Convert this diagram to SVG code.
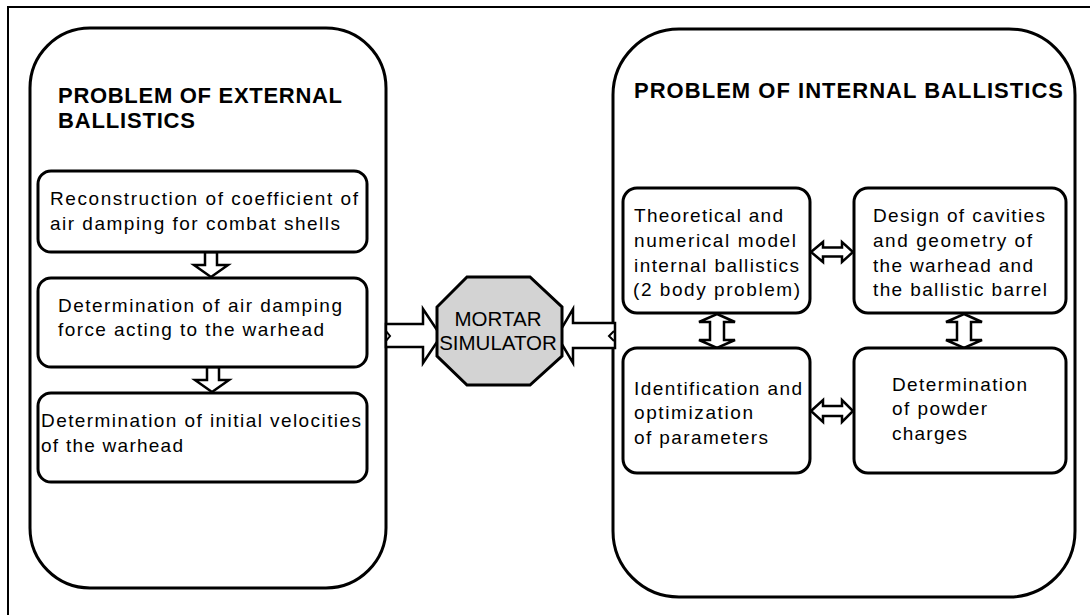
<svg xmlns="http://www.w3.org/2000/svg" width="1090" height="615" viewBox="0 0 1090 615">
<style>
.big{fill:#fff;stroke:#000;stroke-width:3}
.box{fill:#fff;stroke:#000;stroke-width:3}
.t{font-family:"Liberation Sans",Arial,sans-serif;font-size:19px;fill:#000}
.h{font-family:"Liberation Sans",Arial,sans-serif;font-size:22px;font-weight:bold;fill:#000}
.arr{fill:#fff;stroke:#000;stroke-width:2.5;stroke-linejoin:miter}
.mk{fill:none;stroke:#000;stroke-width:2}
</style>
<rect x="0" y="0" width="1090" height="615" fill="#fff"/>
<path d="M8 615 V7 H1090" fill="none" stroke="#000" stroke-width="2"/>

<g id="external">
<rect class="big" x="30" y="28" width="356" height="560" rx="60" ry="60"/>
<text class="h" x="58" y="103" textLength="284" lengthAdjust="spacing">PROBLEM OF EXTERNAL</text>
<text class="h" x="58" y="128" textLength="137" lengthAdjust="spacing">BALLISTICS</text>
</g>

<g id="internal">
<rect class="big" x="613" y="29" width="462" height="568" rx="66" ry="66"/>
<text class="h" x="634" y="98" textLength="429" lengthAdjust="spacing">PROBLEM OF INTERNAL BALLISTICS</text>
</g>

<g id="connectors">
<polygon class="arr" points="205,252 217,252 217,265 228,265 211,277 194,265 205,265"/>
<polygon class="arr" points="207,367 219,367 219,380 229,380 212,392 195,380 207,380"/>
<polygon class="arr" points="386,324 423,324 423,309 441,336 423,363 423,347 386,347"/>
<polygon class="arr" points="615,323 573,323 573,309 557,336 573,363 573,348 615,348"/>
<path class="mk" d="M386,331 L390,336 L386,341"/>
<path class="mk" d="M614,331 L609,336 L614,341"/>
<polygon class="arr" points="811,252 823,242 823,247.5 842,247.5 842,242 853,252 842,262 842,256.5 823,256.5 823,262"/>
<polygon class="arr" points="811,411 823,400 823,406 842,406 842,400 853,411 842,422 842,416 823,416 823,422"/>
<polygon class="arr" points="717,314 735,322 724,322 724,340 735,340 717,348 699,340 710,340 710,322 699,322"/>
<polygon class="arr" points="964,314 982,322 971,322 971,340 982,340 964,348 946,340 957,340 957,322 946,322"/>
</g>

<g id="ext-reconstruction">
<rect class="box" x="38" y="171" width="329" height="81" rx="13" ry="13"/>
<text class="t" x="50" y="205" textLength="308" lengthAdjust="spacing">Reconstruction of coefficient of</text>
<text class="t" x="50" y="230" textLength="290" lengthAdjust="spacing">air damping for combat shells</text>
</g>

<g id="ext-damping-force">
<rect class="box" x="38" y="278" width="329" height="89" rx="13" ry="13"/>
<text class="t" x="58" y="312" textLength="284" lengthAdjust="spacing">Determination of air damping</text>
<text class="t" x="58" y="336" textLength="266" lengthAdjust="spacing">force acting to the warhead</text>
</g>

<g id="ext-velocities">
<rect class="box" x="38" y="393" width="329" height="89" rx="13" ry="13"/>
<text class="t" x="41" y="427" textLength="320" lengthAdjust="spacing">Determination of initial velocities</text>
<text class="t" x="41" y="452" textLength="142" lengthAdjust="spacing">of the warhead</text>
</g>

<g id="simulator">
<polygon points="467,277 530,277 562,307 562,356 530,385 467,385 437,356 437,307" fill="#d3d3d3" stroke="#000" stroke-width="3"/>
<text x="498" y="326" font-family="Liberation Sans, Arial, sans-serif" font-size="20.5" text-anchor="middle">MORTAR</text>
<text x="498" y="350" font-family="Liberation Sans, Arial, sans-serif" font-size="20.5" text-anchor="middle">SIMULATOR</text>
</g>

<g id="int-model">
<rect class="box" x="623" y="188" width="187" height="125" rx="14" ry="14"/>
<text class="t" x="634" y="222" textLength="149" lengthAdjust="spacing">Theoretical and</text>
<text class="t" x="634" y="247" textLength="162" lengthAdjust="spacing">numerical model</text>
<text class="t" x="634" y="272" textLength="165" lengthAdjust="spacing">internal ballistics</text>
<text class="t" x="633" y="296" textLength="167" lengthAdjust="spacing">(2 body problem)</text>
</g>

<g id="int-design">
<rect class="box" x="854" y="188" width="212" height="125" rx="14" ry="14"/>
<text class="t" x="873" y="222" textLength="172" lengthAdjust="spacing">Design of cavities</text>
<text class="t" x="873" y="247" textLength="159" lengthAdjust="spacing">and geometry of</text>
<text class="t" x="873" y="272" textLength="160" lengthAdjust="spacing">the warhead and</text>
<text class="t" x="873" y="296" textLength="174" lengthAdjust="spacing">the ballistic barrel</text>
</g>

<g id="int-identification">
<rect class="box" x="623" y="348" width="187" height="125" rx="14" ry="14"/>
<text class="t" x="634" y="395" textLength="168" lengthAdjust="spacing">Identification and</text>
<text class="t" x="634" y="419" textLength="119" lengthAdjust="spacing">optimization</text>
<text class="t" x="634" y="444" textLength="134" lengthAdjust="spacing">of parameters</text>
</g>

<g id="int-powder">
<rect class="box" x="854" y="348" width="212" height="125" rx="14" ry="14"/>
<text class="t" x="892" y="391" textLength="135" lengthAdjust="spacing">Determination</text>
<text class="t" x="892" y="415" textLength="95" lengthAdjust="spacing">of powder</text>
<text class="t" x="892" y="440" textLength="75" lengthAdjust="spacing">charges</text>
</g>
</svg>
